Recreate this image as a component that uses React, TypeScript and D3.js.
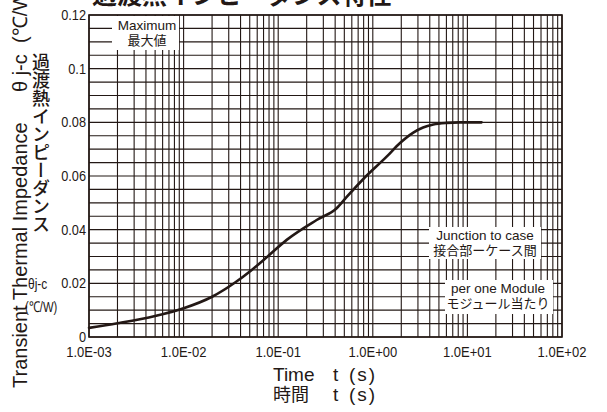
import React from "react";
import * as d3 from "d3";

const timeValues = [0.001, 0.002, 0.005, 0.01, 0.02, 0.035, 0.0525, 0.075, 0.123, 0.255, 0.415, 0.53, 0.79, 1.4, 1.94, 2.68, 3.4, 4.36, 6.0, 8.3, 14.1];
const zthValues = [0.0034, 0.0051, 0.0078, 0.0107, 0.015, 0.0203, 0.025, 0.0296, 0.0362, 0.0436, 0.048, 0.0522, 0.0588, 0.0672, 0.0723, 0.0762, 0.0781, 0.0792, 0.0798, 0.08, 0.08];
const xTickValues = [1e-3, 1e-2, 1e-1, 1e0, 1e1, 1e2];
const xTickLabels = ["1.0E-03", "1.0E-02", "1.0E-01", "1.0E+00", "1.0E+01", "1.0E+02"];
const yTickValues = [0, 0.02, 0.04, 0.06, 0.08, 0.1, 0.12];
const yTickLabels = ["0", "0.02", "0.04", "0.06", "0.08", "0.1", "0.12"];

const INK = "#231815";
const SANS = "'Liberation Sans', Arial, sans-serif";
const CJK = "'Noto Sans CJK JP', sans-serif";

export default function App() {
  const W = 607, H = 412;
  const left = 89, right = 562, top = 15, bottom = 337;
  const x = d3.scaleLog().domain([1e-3, 1e2]).range([left, right]);
  const y = d3.scaleLinear().domain([0, 0.12]).range([bottom, top]);

  const vGrid: number[] = [];
  for (let e = -3; e <= 1; e++) for (let k = 1; k <= 9; k++) vGrid.push(k * Math.pow(10, e));
  vGrid.push(100);
  const hGrid = d3.range(0, 0.1201, 0.005);

  const data = timeValues.map((t, i) => [t, zthValues[i]] as [number, number]);
  const line = d3.line<[number, number]>().x(d => x(d[0])).y(d => y(d[1])).curve(d3.curveMonotoneX);

  return (
    <svg width={W} height={H} style={{ position: "absolute", left: 0, top: 0, background: "#fff" }}>
      <rect x={0} y={0} width={W} height={H} fill="#fff" />
      {/* grid */}
      {vGrid.map((v, i) => (
        <line key={"v" + i} x1={x(v)} x2={x(v)} y1={top} y2={bottom} stroke={INK} strokeWidth={1.1} />
      ))}
      {hGrid.map((v, i) => (
        <line key={"h" + i} x1={left} x2={right} y1={y(v)} y2={y(v)} stroke={INK} strokeWidth={1.1} />
      ))}
      {/* label boxes */}
      <rect x={112} y={16} width={67} height={34} fill="#fff" />
      <text x={147} y={30} textAnchor="middle" fontFamily={SANS} fontSize={13.5} fill={INK}>Maximum</text>
      <text x={147} y={45} textAnchor="middle" fontFamily={CJK} fontSize={13} fill={INK}>最大値</text>

      <rect x={429} y={227} width={112} height={32} fill="#fff" />
      <text x={485} y={240} textAnchor="middle" fontFamily={SANS} fontSize={13.5} fill={INK}>Junction to case</text>
      <text x={485} y={255} textAnchor="middle" fontFamily={CJK} fontSize={13} fill={INK}>接合部ーケース間</text>

      <rect x={445} y={280} width={108} height={34} fill="#fff" />
      <text x={498} y={293} textAnchor="middle" fontFamily={SANS} fontSize={13.5} fill={INK}>per one Module</text>
      <text x={498} y={308} textAnchor="middle" fontFamily={CJK} fontSize={13} fill={INK}>モジュール当たり</text>

      {/* border */}
      <rect x={left} y={top} width={right - left} height={bottom - top} fill="none" stroke={INK} strokeWidth={1.6} />
      {/* curve */}
      <path d={line(data) || ""} fill="none" stroke={INK} strokeWidth={2.6} strokeLinecap="round" strokeLinejoin="round" />

      {/* y tick labels */}
      {yTickValues.map((v, i) => (
        <text key={"yl" + i} transform={`translate(86,${y(v) + 5}) scale(0.88,1)`} textAnchor="end" fontFamily={SANS} fontSize={14.5} fill={INK}>{yTickLabels[i]}</text>
      ))}
      {/* x tick labels */}
      {xTickValues.map((v, i) => (
        <text key={"xl" + i} transform={`translate(${x(v)},${357}) scale(0.84,1)`} textAnchor="middle" fontFamily={SANS} fontSize={15.5} fill={INK}>{xTickLabels[i]}</text>
      ))}

      {/* x axis title */}
      <text x={273} y={381} fontFamily={SANS} fontSize={19} fill={INK}>Time</text>
      <text x={333} y={381} fontFamily={SANS} fontSize={19} fill={INK}>t</text>
      <text x={349} y={381} fontFamily={SANS} fontSize={19} letterSpacing={2} fill={INK}>(s)</text>
      <text x={273} y={401} fontFamily={CJK} fontSize={18} fill={INK}>時間</text>
      <text x={333} y={401} fontFamily={SANS} fontSize={19} fill={INK}>t</text>
      <text x={349} y={401} fontFamily={SANS} fontSize={19} letterSpacing={2} fill={INK}>(s)</text>

      {/* title */}
      <text x={92} y={4} fontFamily={CJK} fontSize={25} fontWeight={700} fill={INK}>過渡熱インピーダンス特性</text>

      {/* y axis title: english rotated */}
      <text transform="translate(27,388) rotate(-90)" fontFamily={SANS} fontSize={20} fill={INK}>Transient Thermal Impedance</text>
      <text transform="translate(27,92) rotate(-90)" fontFamily={SANS} fontSize={20} fill={INK}>θ j-c</text>
      <text transform="translate(27,43) rotate(-90)" fontFamily={SANS} fontSize={20} fill={INK}>(℃/W)</text>
      {/* y axis title: japanese vertical */}
      <text x={41} y={53} fontFamily={CJK} fontSize={18} fontWeight={500} fill={INK} style={{ writingMode: "vertical-rl" } as any}>過渡熱インピーダンス</text>
      <text transform="translate(28,289) scale(0.8,1)" fontFamily={SANS} fontSize={15} fill={INK}>θj-c</text>
      <text transform="translate(25,312) scale(0.75,1)" fontFamily={SANS} fontSize={15} fill={INK}>(℃/W)</text>
    </svg>
  );
}
